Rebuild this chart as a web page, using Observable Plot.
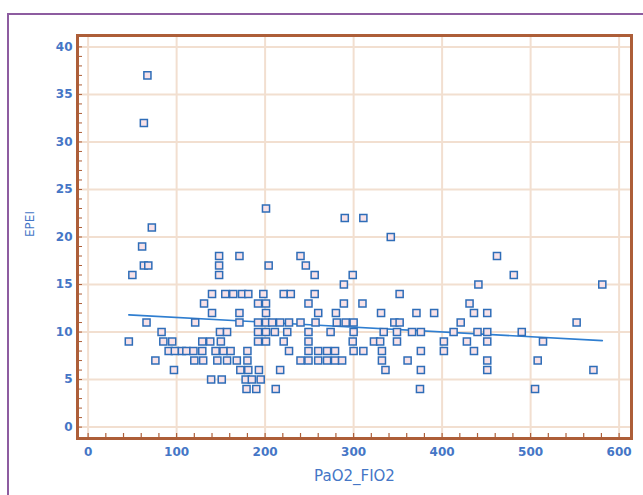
<!DOCTYPE html>
<html><head><meta charset="utf-8">
<script src="https://cdn.jsdelivr.net/npm/d3@7"></script>
<script src="https://cdn.jsdelivr.net/npm/@observablehq/plot@0.6"></script>
<style>
body{margin:0;background:#fff;}
#wrap{position:relative;width:643px;height:495px;overflow:hidden;background:#fff;}
#border{position:absolute;left:7px;top:13px;width:700px;height:600px;border-left:2px solid #8d5ca0;border-top:2px solid #8d5ca0;}
#chart{position:absolute;left:0;top:0;}
</style></head><body>
<div id="wrap"><div id="border"></div><div id="chart"></div></div>
<script>
// EPEI levels and the PaO2_FIO2 values of the points at each level
const epeiLevels = [4,5,6,7,8,9,10,11,12,13,14,15,16,17,18,19,20,21,22,23,32,37];
const pao2ByLevel = [
  [179,190,212,375,505],
  [139,151,178,185,195],
  [97,172,181,193,217,336,376,451,571],
  [76,120,130,146,157,168,180,240,249,260,270,279,287,332,361,451,508],
  [91,98,106,111,119,129,144,153,161,180,227,249,260,270,279,300,311,332,376,402,436],
  [46,85,95,129,138,150,192,201,221,249,299,323,330,349,402,428,451,514],
  [83,149,157,192,201,211,225,249,274,300,334,349,366,376,413,440,451,490],
  [66,121,171,192,201,208,217,227,240,257,281,291,300,346,352,421,552],
  [140,171,201,260,280,331,371,391,436,451],
  [131,192,201,249,289,310,431],
  [140,155,164,174,181,198,221,229,256,352],
  [289,441,581],
  [50,148,256,299,481],
  [63,68,148,204,246],
  [148,171,240,462],
  [61],
  [342],
  [72],
  [290,311],
  [201],
  [63],
  [67]
];
const xTicks = [0,100,200,300,400,500,600];
const yTicks = [0,5,10,15,20,25,30,35,40];
const xMinor = d3.range(0, 601, 20);
const yMinor = d3.range(0, 41, 1);

const data = [];
epeiLevels.forEach((lv, i) => pao2ByLevel[i].forEach(p => data.push({PaO2_FIO2: p, EPEI: lv})));

const brown = "#ad5e38";
const grid = "#f2dfd0";
const blue = "#4576c6";

const chart = Plot.plot({
  width: 643,
  height: 495,
  marginLeft: 77,
  marginRight: 12,
  marginTop: 35,
  marginBottom: 57,
  style: {fontFamily: "DejaVu Sans", background: "transparent"},
  x: {domain: [-12, 614]},
  y: {domain: [-1.2, 41.2]},
  marks: [
    Plot.gridX(xTicks, {stroke: grid, strokeOpacity: 1, strokeWidth: 2}),
    Plot.gridY(yTicks, {stroke: grid, strokeOpacity: 1, strokeWidth: 2}),
    Plot.axisY(yMinor, {tickSize: 5, dx: 5, tickFormat: () => "", label: null, stroke: brown, strokeWidth: 1}),
    Plot.axisX(xMinor, {tickSize: 5, dy: -5, tickFormat: () => "", label: null, stroke: brown, strokeWidth: 1.2}),
    Plot.axisY(yTicks, {tickSize: 0, tickPadding: 5, fontSize: 12, fontWeight: "bold", fill: blue, label: null}),
    Plot.axisX(xTicks, {tickSize: 0, tickPadding: 9, fontSize: 12, fontWeight: "bold", fill: blue, label: null}),
    Plot.frame({stroke: brown, strokeWidth: 3}),
    Plot.linearRegressionY(data, {x: "PaO2_FIO2", y: "EPEI", stroke: "#2f7ed0", strokeWidth: 1.6, ci: 0}),
    Plot.dot(data, {x: "PaO2_FIO2", y: "EPEI", symbol: "square", r: 4, stroke: "#2f6db8", strokeWidth: 1.5, fill: "#f8e2e8"}),
    Plot.text(["EPEI"], {frameAnchor: "left", dx: -47, rotate: -90, fill: blue, fontSize: 12}),
    Plot.text(["PaO2_FIO2"], {frameAnchor: "bottom", dy: 42, fill: blue, fontSize: 15})
  ]
});
document.getElementById("chart").appendChild(chart);
</script>
</body></html>
